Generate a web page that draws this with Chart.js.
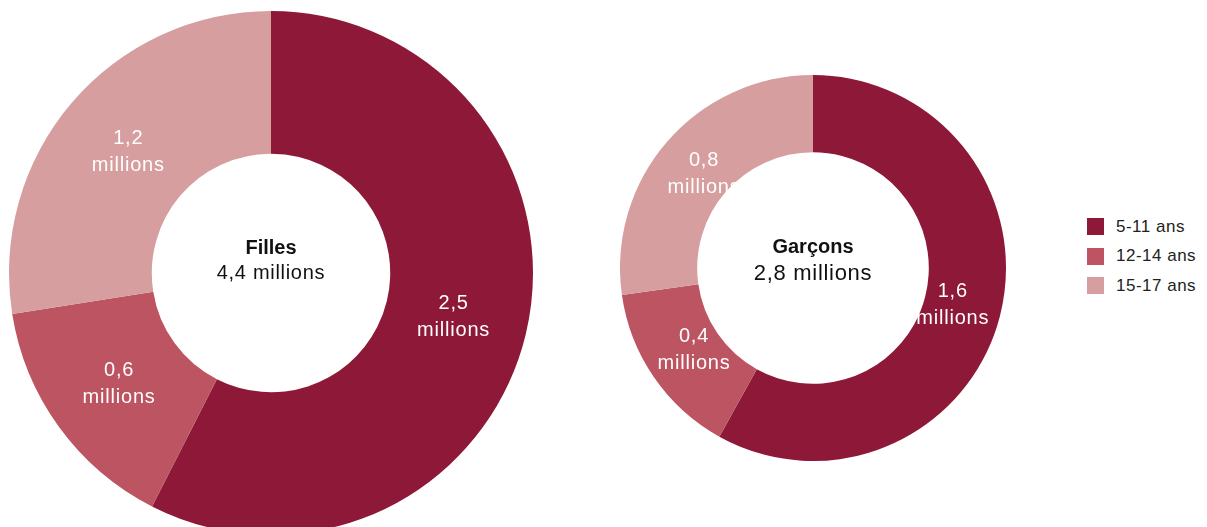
<!DOCTYPE html>
<html>
<head>
<meta charset="utf-8">
<script src="https://cdn.jsdelivr.net/npm/chart.js@4"></script>
<style>
    html, body { margin: 0; padding: 0; background: #fff; overflow: hidden; }
    body { width: 1207px; height: 527px; position: relative; font-family: "Liberation Sans", Arial, sans-serif; }
    .box { position: absolute; }
    #legend { position: absolute; left: 1087px; top: 212px; font-size: 17px; letter-spacing: 0.5px; color: #222; }
    .item { display: flex; align-items: center; height: 29.5px; }
    .swatch { width: 17px; height: 17px; margin-right: 12px; }
</style>
</head>
<body>
<div class="box" style="left:9px; top:11px; width:524px; height:524px;"><canvas id="filles"></canvas></div>
<div class="box" style="left:620px; top:75px; width:386px; height:386px;"><canvas id="garcons"></canvas></div>
<div id="legend"></div>
<script>
// age groups
const ageGroups = ['5-11 ans', '12-14 ans', '15-17 ans'];
const groupColors = ['#8E1838', '#BC5461', '#D69E9E'];

// girls (millions)
const fillesValues = [2.53, 0.66, 1.21];
const fillesLabels = ['2,5', '0,6', '1,2'];
const fillesTitle = 'Filles';
const fillesTotal = '4,4 millions';

// boys
const garconsValues = [1.62, 0.41, 0.76];
const garconsLabels = ['1,6', '0,4', '0,8'];
const garconsTitle = 'Garçons';
const garconsTotal = '2,8 millions';

const FONT = '"Liberation Sans", Arial, sans-serif';

// white labels inside each slice
const sliceLabels = {
    id: 'sliceLabels',
    afterDatasetsDraw(chart, args, opts) {
        const ctx = chart.ctx;
        const meta = chart.getDatasetMeta(0);
        ctx.save();
        ctx.fillStyle = '#fff';
        ctx.font = '20px ' + FONT;
        ctx.letterSpacing = '0.8px';
        ctx.textAlign = 'center';
        ctx.textBaseline = 'middle';
        meta.data.forEach((arc, i) => {
            const a = (arc.startAngle + arc.endAngle) / 2;
            const r = arc.innerRadius + opts.pos * (arc.outerRadius - arc.innerRadius);
            const x = arc.x + Math.cos(a) * r;
            const y = arc.y + Math.sin(a) * r;
            ctx.fillText(opts.texts[i], x, y - 13);
            ctx.fillText('millions', x, y + 14);
        });
        ctx.restore();
    }
};

// title + total in the hole
const centerText = {
    id: 'centerText',
    afterDatasetsDraw(chart, args, opts) {
        const ctx = chart.ctx;
        const arc = chart.getDatasetMeta(0).data[0];
        ctx.save();
        ctx.fillStyle = '#111';
        ctx.textAlign = 'center';
        ctx.textBaseline = 'middle';
        ctx.font = 'bold 20px ' + FONT;
        ctx.fillText(opts.title, arc.x, arc.y + opts.titleDy);
        ctx.font = opts.totalSize + 'px ' + FONT;
        ctx.letterSpacing = '0.7px';
        ctx.fillText(opts.total, arc.x, arc.y + opts.totalDy);
        ctx.restore();
    }
};

function makeDonut(id, values, texts, title, total, cutout, labelPos, center) {
    return new Chart(document.getElementById(id), {
        type: 'doughnut',
        data: {
            labels: ageGroups,
            datasets: [{
                data: values,
                backgroundColor: groupColors,
                borderWidth: 0
            }]
        },
        options: {
            responsive: true,
            maintainAspectRatio: false,
            animation: false,
            cutout: cutout,
            layout: { padding: 0 },
            plugins: {
                legend: { display: false },
                tooltip: { enabled: false },
                sliceLabels: { texts: texts, pos: labelPos },
                centerText: Object.assign({ title: title, total: total }, center)
            }
        },
        plugins: [sliceLabels, centerText]
    });
}

makeDonut('filles', fillesValues, fillesLabels, fillesTitle, fillesTotal, '45.5%', 0.48,
    { totalSize: 20, titleDy: -25, totalDy: 0 });
makeDonut('garcons', garconsValues, garconsLabels, garconsTitle, garconsTotal, '60%', 0.37,
    { totalSize: 22, titleDy: -21, totalDy: 6 });

// legend
const legend = document.getElementById('legend');
ageGroups.forEach((g, i) => {
    const row = document.createElement('div');
    row.className = 'item';
    row.innerHTML = `<span class="swatch" style="background:${groupColors[i]}"></span>${g}`;
    legend.appendChild(row);
});
</script>
</body>
</html>
